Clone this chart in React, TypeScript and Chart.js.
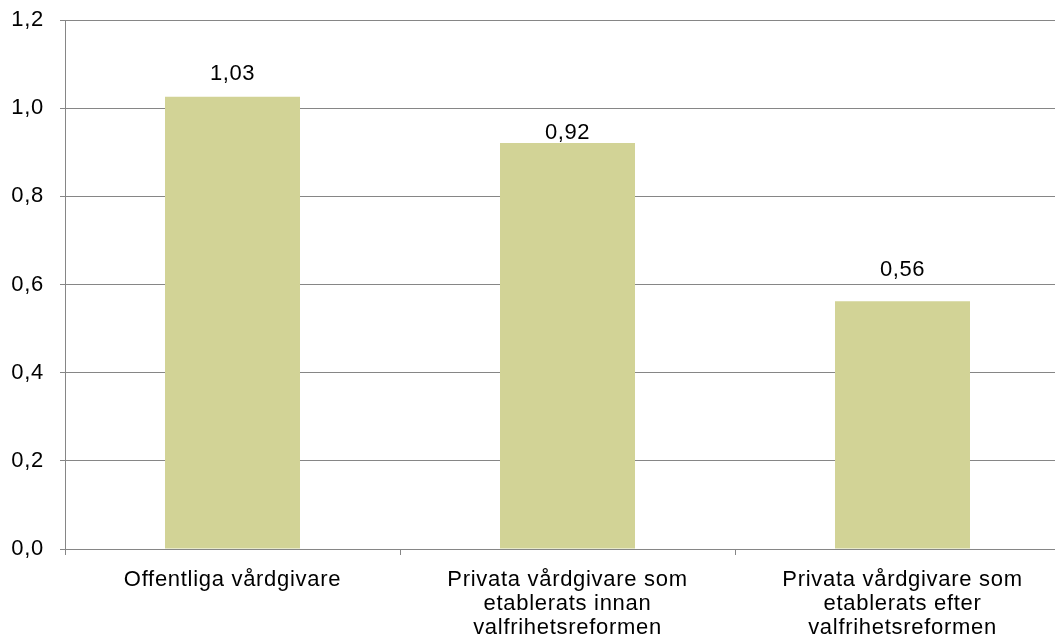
import React, { useEffect, useRef } from "react";
import { Chart, registerables } from "chart.js";

Chart.register(...registerables);

const categories: string[][] = [
  ["Offentliga vårdgivare"],
  ["Privata vårdgivare som", "etablerats innan", "valfrihetsreformen"],
  ["Privata vårdgivare som", "etablerats efter", "valfrihetsreformen"],
];
const values: number[] = [1.026, 0.921, 0.562];
const yTicks: number[] = [0, 0.2, 0.4, 0.6, 0.8, 1.0, 1.2];
const labelLift: number[] = [23, 10, 31];

const FONT = "'Liberation Sans', Arial, sans-serif";
const fmt = (v: number, d: number) => v.toFixed(d).replace(".", ",");

const spacing = {
  id: "spacing",
  beforeDraw(chart: any) {
    chart.ctx.letterSpacing = "0.7px";
  },
};

const valueLabels = {
  id: "valueLabels",
  afterDatasetsDraw(chart: any) {
    const ctx = chart.ctx;
    const meta = chart.getDatasetMeta(0);
    ctx.save();
    ctx.letterSpacing = "0.6px";
    ctx.font = `22px ${FONT}`;
    ctx.fillStyle = "#000";
    ctx.textAlign = "center";
    ctx.textBaseline = "middle";
    meta.data.forEach((bar: any, i: number) => {
      ctx.fillText(fmt(values[i], 2), bar.x, bar.y - labelLift[i]);
    });
    ctx.restore();
  },
};

export default function App() {
  const ref = useRef<HTMLCanvasElement | null>(null);
  useEffect(() => {
    if (!ref.current) return;
    const chart = new Chart(ref.current, {
      type: "bar",
      data: {
        labels: categories,
        datasets: [
          {
            data: values,
            backgroundColor: "#D2D396",
            borderWidth: 0,
            categoryPercentage: 1,
            barPercentage: 0.403,
          },
        ],
      },
      plugins: [spacing, valueLabels],
      options: {
        animation: false,
        responsive: false,
        maintainAspectRatio: false,
        layout: { padding: { top: 20, right: 0, left: 0, bottom: 0 } },
        plugins: { legend: { display: false }, tooltip: { enabled: false } },
        scales: {
          x: {
            offset: true,
            grid: {
              offset: true,
              drawOnChartArea: false,
              drawTicks: true,
              tickLength: 6,
              color: "#868686",
            },
            border: { color: "#868686", width: 1 },
            ticks: {
              color: "#000",
              font: { family: FONT, size: 22, lineHeight: 1.09 },
              padding: 13,
              maxRotation: 0,
              autoSkip: false,
            },
            afterFit: (s: any) => {
              s.height = 94;
              s.paddingLeft = 0;
              s.paddingRight = 0;
            },
          },
          y: {
            min: 0,
            max: 1.2,
            afterBuildTicks: (s: any) => {
              s.ticks = yTicks.map((v) => ({ value: v }));
            },
            grid: { color: "#868686", tickLength: 5, lineWidth: 1 },
            border: { color: "#868686", width: 1 },
            ticks: {
              color: "#000",
              font: { family: FONT, size: 22 },
              padding: 16,
              callback: (v: any) => fmt(Number(v), 1),
            },
            afterFit: (s: any) => {
              s.width = 65;
              s.paddingTop = 0;
              s.paddingBottom = 0;
            },
          },
        },
      },
    });
    return () => chart.destroy();
  }, []);
  return (
    <div style={{ margin: -8, width: 1063, height: 643, overflow: "hidden", background: "#fff" }}>
      <canvas ref={ref} width={1070} height={643} style={{ display: "block" }} />
    </div>
  );
}
